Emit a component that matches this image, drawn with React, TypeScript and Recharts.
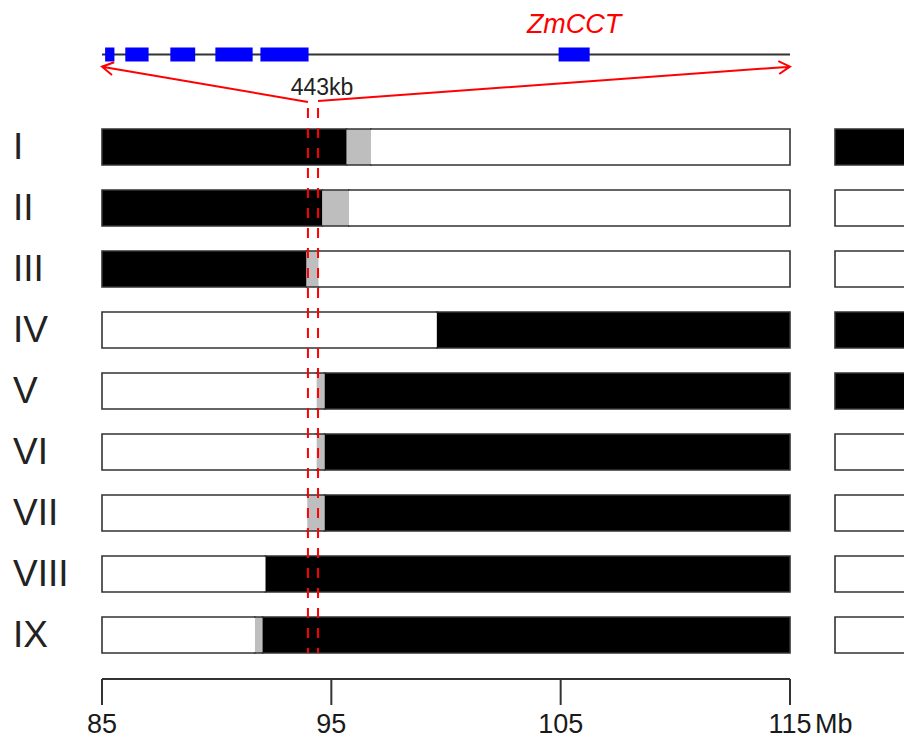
import React from 'react';
import { BarChart, Bar, Cell, XAxis, YAxis, ComposedChart, ReferenceLine, ReferenceArea } from 'recharts';

const W = 904;
const H = 741;
const FONT = '"Liberation Sans", Arial, Helvetica, sans-serif';

// chromosome window shown (Mb)
const START = 85;
const END = 115;
const majorTicks = [85, 95, 105, 115];

// recombinant rows
const rows = ['I', 'II', 'III', 'IV', 'V', 'VI', 'VII', 'VIII', 'IX'];
const leftAllele = ['B', 'B', 'B', 'W', 'W', 'W', 'W', 'W', 'W'];
const rightAllele = ['W', 'W', 'W', 'B', 'B', 'B', 'B', 'B', 'B'];
const leftEnd = [95.67, 94.61, 93.92, 99.6, 94.36, 94.36, 93.95, 92.13, 91.67];
const hetEnd = [96.73, 95.77, 94.45, 99.6, 94.71, 94.71, 94.71, 92.13, 92.0];
const phenotype = ['B', 'W', 'W', 'B', 'B', 'W', 'W', 'W', 'W'];

// fine-mapped interval and gene model inside it
const qtl = [93.98, 94.42];
const qtlLabel = '443kb';
const regionKb = 443;
const exonStart = [2, 15, 44, 73, 102, 294];
const exonEnd = [8, 30, 60, 97, 133, 314];
const geneName = 'ZmCCT';
const geneExon = 5;

const COLORS: Record<string, string> = { B: '#000000', W: '#FFFFFF', H: '#BEBEBE' };

const barData = rows.map((row, i) => ({
  row,
  a: leftEnd[i] - START,
  b: hetEnd[i] - leftEnd[i],
  c: END - hetEnd[i],
}));

const boxData = rows.map((row) => ({ row, v: 1 }));

const anchors = [
  { mb: START, kb: 0, y: 0 },
  { mb: END, kb: regionKb, y: H },
];

const segShape = (side: 'left' | 'mid' | 'right') => (props: any) => {
  const { x, y, width, height, fill } = props;
  if (!width || width <= 0) return <g />;
  const r = x + width;
  const b = y + height;
  let d = `M${x},${y}H${r}M${x},${b}H${r}`;
  if (side === 'left') d += `M${x},${y}V${b}`;
  if (side === 'right') d += `M${r},${y}V${b}`;
  return (
    <g>
      <rect x={x} y={y} width={width} height={height} fill={fill} />
      <path d={d} stroke="#333" strokeWidth={1.6} fill="none" strokeLinecap="square" />
    </g>
  );
};

const MbTick = (props: any) => {
  const { x, y, payload } = props;
  const v = payload.value + START;
  return (
    <g>
      <text x={x} y={y} dy={20} textAnchor="middle" fontSize={27} fill="#1a1a1a" fontFamily={FONT}>
        {v}
      </text>
      {v === END && (
        <text x={x + 25} y={y} dy={20} textAnchor="start" fontSize={27} fill="#1a1a1a" fontFamily={FONT}>
          Mb
        </text>
      )}
    </g>
  );
};

const RowTick = (props: any) => {
  const { y, payload } = props;
  return (
    <text x={13} y={y} dy={12} fontSize={37} fill="#222" fontFamily={FONT}>
      {payload.value}
    </text>
  );
};

const Arrow = (p: any) => {
  const { x1, y1, x2, y2 } = p;
  const ang = Math.atan2(y2 - y1, x2 - x1);
  const L = 13;
  const a = Math.PI / 6;
  const hx1 = x2 - L * Math.cos(ang - a);
  const hy1 = y2 - L * Math.sin(ang - a);
  const hx2 = x2 - L * Math.cos(ang + a);
  const hy2 = y2 - L * Math.sin(ang + a);
  return (
    <path
      d={`M${x1},${y1}L${x2},${y2}M${hx1},${hy1}L${x2},${y2}L${hx2},${hy2}`}
      stroke="#FF0000"
      strokeWidth={2}
      fill="none"
    />
  );
};

export default function App() {
  return (
    <div style={{ position: 'absolute', left: 0, top: 0, width: W, height: H, overflow: 'hidden', background: '#fff' }}>
      <div style={{ position: 'absolute', left: 0, top: 0 }}>
        <BarChart
          width={W}
          height={H}
          layout="vertical"
          data={barData}
          margin={{ top: 100, right: 114, bottom: 2, left: 0 }}
          barSize={36}
        >
          <XAxis
            type="number"
            domain={[0, END - START]}
            ticks={majorTicks.map((t) => t - START)}
            interval={0}
            height={60}
            tickSize={26}
            tickMargin={8}
            axisLine={{ stroke: '#333', strokeWidth: 2 }}
            tickLine={{ stroke: '#333', strokeWidth: 2 }}
            tick={MbTick}
          />
          <YAxis
            type="category"
            dataKey="row"
            width={102}
            interval={0}
            axisLine={false}
            tickLine={false}
            tick={RowTick}
            padding={{ top: 16, bottom: 14 }}
          />
          <Bar dataKey="a" stackId="g" isAnimationActive={false} shape={segShape('left')}>
            {rows.map((r, i) => (
              <Cell key={r} fill={COLORS[leftAllele[i]]} />
            ))}
          </Bar>
          <Bar dataKey="b" stackId="g" isAnimationActive={false} shape={segShape('mid')}>
            {rows.map((r) => (
              <Cell key={r} fill={COLORS.H} />
            ))}
          </Bar>
          <Bar dataKey="c" stackId="g" isAnimationActive={false} shape={segShape('right')}>
            {rows.map((r, i) => (
              <Cell key={r} fill={COLORS[rightAllele[i]]} />
            ))}
          </Bar>
        </BarChart>
      </div>

      <div style={{ position: 'absolute', left: 0, top: 0 }}>
        <BarChart
          width={1000}
          height={H}
          layout="vertical"
          data={boxData}
          margin={{ top: 100, right: 85, bottom: 62, left: 835 }}
          barSize={36}
        >
          <XAxis type="number" domain={[0, 1]} hide />
          <YAxis type="category" dataKey="row" hide padding={{ top: 16, bottom: 14 }} />
          <Bar dataKey="v" isAnimationActive={false} stroke="#333" strokeWidth={1.6}>
            {rows.map((r, i) => (
              <Cell key={r} fill={COLORS[phenotype[i]]} />
            ))}
          </Bar>
        </BarChart>
      </div>

      <div style={{ position: 'absolute', left: 0, top: 0 }}>
        <ComposedChart width={W} height={H} data={anchors} margin={{ top: 0, right: 114, bottom: 0, left: 102 }}>
          <XAxis xAxisId="mb" dataKey="mb" type="number" domain={[START, END]} allowDataOverflow hide />
          <XAxis xAxisId="kb" dataKey="kb" type="number" domain={[0, regionKb]} allowDataOverflow hide />
          <YAxis dataKey="y" type="number" domain={[0, H]} allowDataOverflow reversed hide />
          <ReferenceArea
            xAxisId="kb"
            x1={0}
            x2={regionKb}
            y1={53.6}
            y2={55.4}
            fill="#333"
            fillOpacity={1}
            stroke="none"
            ifOverflow="visible"
          />
          {exonStart.map((s, i) => (
            <ReferenceArea
              key={`exon-${i}`}
              xAxisId="kb"
              x1={s}
              x2={exonEnd[i]}
              y1={47.5}
              y2={61.5}
              fill="#0000FF"
              fillOpacity={1}
              stroke="none"
              ifOverflow="visible"
              label={
                i === geneExon
                  ? (p: any) => (
                      <text
                        x={p.viewBox.x + p.viewBox.width / 2}
                        y={p.viewBox.y - 15}
                        textAnchor="middle"
                        fontSize={27}
                        fontStyle="italic"
                        fill="#FF0000"
                        fontFamily={FONT}
                      >
                        {geneName}
                      </text>
                    )
                  : undefined
              }
            />
          ))}
          <ReferenceArea
            xAxisId="mb"
            x1={qtl[0]}
            x2={qtl[1]}
            y1={108}
            y2={653}
            fill="none"
            stroke="none"
            ifOverflow="visible"
            label={(p: any) => (
              <text
                x={p.viewBox.x + p.viewBox.width / 2 + 9}
                y={p.viewBox.y - 13}
                textAnchor="middle"
                fontSize={23}
                fill="#222"
                fontFamily={FONT}
              >
                {qtlLabel}
              </text>
            )}
          />
          {qtl.map((q) => (
            <ReferenceLine
              key={`dash-${q}`}
              xAxisId="mb"
              segment={[
                { x: q, y: 108 },
                { x: q, y: 653 },
              ]}
              stroke="#FF0000"
              strokeWidth={2}
              strokeDasharray="10 10"
              ifOverflow="visible"
            />
          ))}
          <ReferenceLine
            xAxisId="mb"
            segment={[
              { x: qtl[0], y: 102 },
              { x: START, y: 66.7 },
            ]}
            shape={Arrow}
            ifOverflow="visible"
          />
          <ReferenceLine
            xAxisId="mb"
            segment={[
              { x: qtl[1], y: 101 },
              { x: END, y: 66.7 },
            ]}
            shape={Arrow}
            ifOverflow="visible"
          />
        </ComposedChart>
      </div>
    </div>
  );
}
